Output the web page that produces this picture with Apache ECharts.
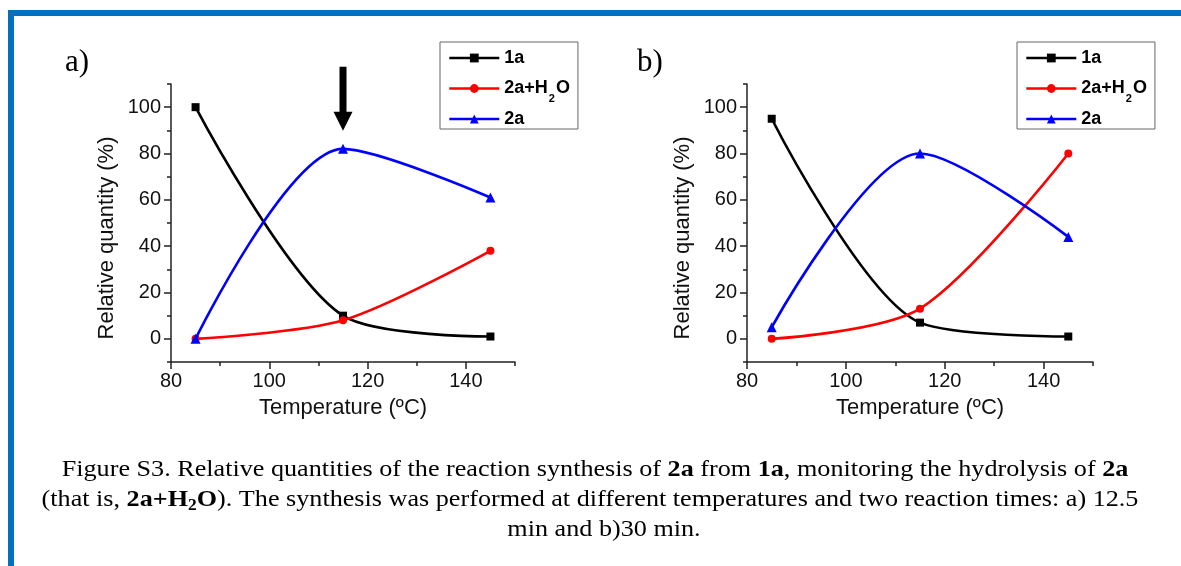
<!DOCTYPE html>
<html><head><meta charset="utf-8">
<script src="https://cdn.jsdelivr.net/npm/echarts@6/dist/echarts.min.js"></script>
<style>html,body{margin:0;padding:0;background:#fff;}#c{width:1181px;height:566px;}</style>
</head><body><div id="c"></div>
<script>
// ---------------- data ----------------
const temps = [85, 115, 145];
const panelA_1a = [100, 10, 1];
const panelA_2aH2O = [0, 8, 38];
const panelA_2a = [0, 82, 61];
const panelB_1a = [95, 7, 1];
const panelB_2aH2O = [0, 13, 80];
const panelB_2a = [5, 80, 44];
const seriesNames = ['1a', '2a+H2O', '2a'];
const xMajorTicks = [80, 100, 120, 140];
const xMinorTicks = [90, 110, 130, 150];
const yMajorTicks = [0, 20, 40, 60, 80, 100];
const yMinorTicks = [-10, 10, 30, 50, 70, 90, 110];
const panelLabels = ['a)', 'b)'];
const xTitle = 'Temperature (ºC)';
const yTitle = 'Relative quantity (%)';
const captionLines = [
  'Figure S3. Relative quantities of the reaction synthesis of {b|2a} from {b|1a}, monitoring the hydrolysis of {b|2a}',
  '(that is, {b|2a+H}{bs|2}{b|O}). The synthesis was performed at different temperatures and two reaction times: a) 12.5',
  'min and b)30 min.'
];
// --------------------------------------

const SANS = "'Liberation Sans', Arial, sans-serif";
const SERIF = "'Liberation Serif', 'Times New Roman', serif";
const colors = ['#000000', '#ff0000', '#0000ff'];
const symbols = ['rect', 'circle', 'triangle'];
const symSizes = [8, 8, 10];

const grids = [
  { left: 171, top: 84, width: 344, height: 278 },
  { left: 747, top: 84, width: 346, height: 278 }
];
const axisLineStyle = { color: '#222', width: 1.5 };

const xAxes = [], yAxes = [];
grids.forEach((g, i) => {
  xAxes.push({
    gridIndex: i, type: 'value', min: 80, max: 150, position: 'bottom',
    axisLine: { show: true, onZero: false, lineStyle: axisLineStyle },
    axisTick: { show: true, customValues: xMajorTicks, length: 7, lineStyle: axisLineStyle },
    axisLabel: { customValues: xMajorTicks, fontSize: 20, color: '#111', fontFamily: SANS, margin: 9 },
    splitLine: { show: false },
    name: xTitle, nameLocation: 'middle', nameGap: 35,
    nameTextStyle: { fontSize: 22, color: '#111', fontFamily: SANS }
  });
  xAxes.push({
    gridIndex: i, type: 'value', min: 80, max: 150, position: 'bottom',
    axisLine: { show: false, onZero: false },
    axisTick: { show: true, customValues: xMinorTicks, length: 4, lineStyle: axisLineStyle },
    axisLabel: { show: false }, splitLine: { show: false }
  });
  yAxes.push({
    gridIndex: i, type: 'value', min: -10, max: 110, position: 'left',
    axisLine: { show: true, onZero: false, lineStyle: axisLineStyle },
    axisTick: { show: true, customValues: yMajorTicks, length: 7, lineStyle: axisLineStyle },
    axisLabel: { customValues: yMajorTicks, fontSize: 20, color: '#111', fontFamily: SANS, margin: 10 },
    splitLine: { show: false }
  });
  yAxes.push({
    gridIndex: i, type: 'value', min: -10, max: 110, position: 'left',
    axisLine: { show: false, onZero: false },
    axisTick: { show: true, customValues: yMinorTicks, length: 4, lineStyle: axisLineStyle },
    axisLabel: { show: false }, splitLine: { show: false }
  });
});

const panelData = [
  [panelA_1a, panelA_2aH2O, panelA_2a],
  [panelB_1a, panelB_2aH2O, panelB_2a]
];
const series = [];
panelData.forEach((sets, p) => {
  sets.forEach((vals, k) => {
    const s = {
      type: 'line', name: seriesNames[k],
      xAxisIndex: p * 2, yAxisIndex: p * 2,
      data: temps.map((t, j) => [t, vals[j]]),
      smooth: 0.3,
      symbol: symbols[k], symbolSize: symSizes[k], showSymbol: true,
      lineStyle: { color: colors[k], width: 2.6 },
      itemStyle: { color: colors[k] },
      z: 3 + k
    };
    if (p === 0 && k === 2) {
      s.markPoint = {
        silent: true,
        symbol: 'path://M6,0 L13,0 L13,45 L19,45 L9.5,64 L0,45 L6,45 Z',
        symbolSize: [19, 64], symbolKeepAspect: false,
        symbolOffset: [0, -50],
        itemStyle: { color: '#000' },
        label: { show: false },
        data: [{ coord: [temps[1], panelA_2a[1]] }]
      };
    }
    series.push(s);
  });
});

const legendRich = {
  t: { fontSize: 18, fontWeight: 'bold', fontFamily: SANS, color: '#000', lineHeight: 20 },
  s: { fontSize: 11, fontWeight: 'bold', fontFamily: SANS, color: '#000', lineHeight: 11, padding: [20, 1, 0, 1] }
};
function legendFmt(name) {
  if (name === '2a+H2O') return '{t|2a+H}{s|2}{t|O}';
  return '{t|' + name + '}';
}
const legends = [440, 1017].map(left => ({
  data: seriesNames, orient: 'vertical', left: left, top: 42,
  padding: [7, 8, 1, 8], itemGap: 6, itemWidth: 50, itemHeight: 11,
  borderColor: '#666', borderWidth: 1, backgroundColor: '#fff',
  selectedMode: false, formatter: legendFmt,
  lineStyle: { width: 2.6 },
  textStyle: { rich: legendRich }
}));

const graphics = [
  { type: 'rect', shape: { x: 8, y: 10, width: 1173, height: 6 }, style: { fill: '#0070C0' }, silent: true },
  { type: 'rect', shape: { x: 8, y: 10, width: 6, height: 556 }, style: { fill: '#0070C0' }, silent: true },
  { type: 'text', x: 65, y: 63, style: { text: panelLabels[0], font: '31px ' + SERIF, fill: '#000', align: 'left', verticalAlign: 'middle' } },
  { type: 'text', x: 637, y: 63, style: { text: panelLabels[1], font: '31px ' + SERIF, fill: '#000', align: 'left', verticalAlign: 'middle' } },
  { type: 'text', x: 106.5, y: 238, rotation: Math.PI / 2, style: { text: yTitle, font: '22px ' + SANS, fill: '#111', align: 'center', verticalAlign: 'middle' } },
  { type: 'text', x: 682.5, y: 238, rotation: Math.PI / 2, style: { text: yTitle, font: '22px ' + SANS, fill: '#111', align: 'center', verticalAlign: 'middle' } }
];
const capY = [470, 500, 530];
const capX = [595, 590, 604];
captionLines.forEach((line, i) => {
  graphics.push({
    type: 'text', x: capX[i], y: capY[i], scaleX: 1.09,
    style: {
      text: line, fontSize: 24, fontFamily: SERIF, fill: '#000',
      align: 'center', verticalAlign: 'middle', lineHeight: 30,
      rich: {
        b: { fontSize: 24, fontFamily: SERIF, fontWeight: 'bold', lineHeight: 30 },
        bs: { fontSize: 16, fontFamily: SERIF, fontWeight: 'bold', lineHeight: 16, padding: [12, 0, 0, 0] }
      }
    }
  });
});

const chart = echarts.init(document.getElementById('c'), null, { renderer: 'canvas' });
chart.setOption({
  backgroundColor: '#fff',
  animation: false,
  grid: grids,
  xAxis: xAxes,
  yAxis: yAxes,
  legend: legends,
  series: series,
  graphic: graphics
});
</script></body></html>
